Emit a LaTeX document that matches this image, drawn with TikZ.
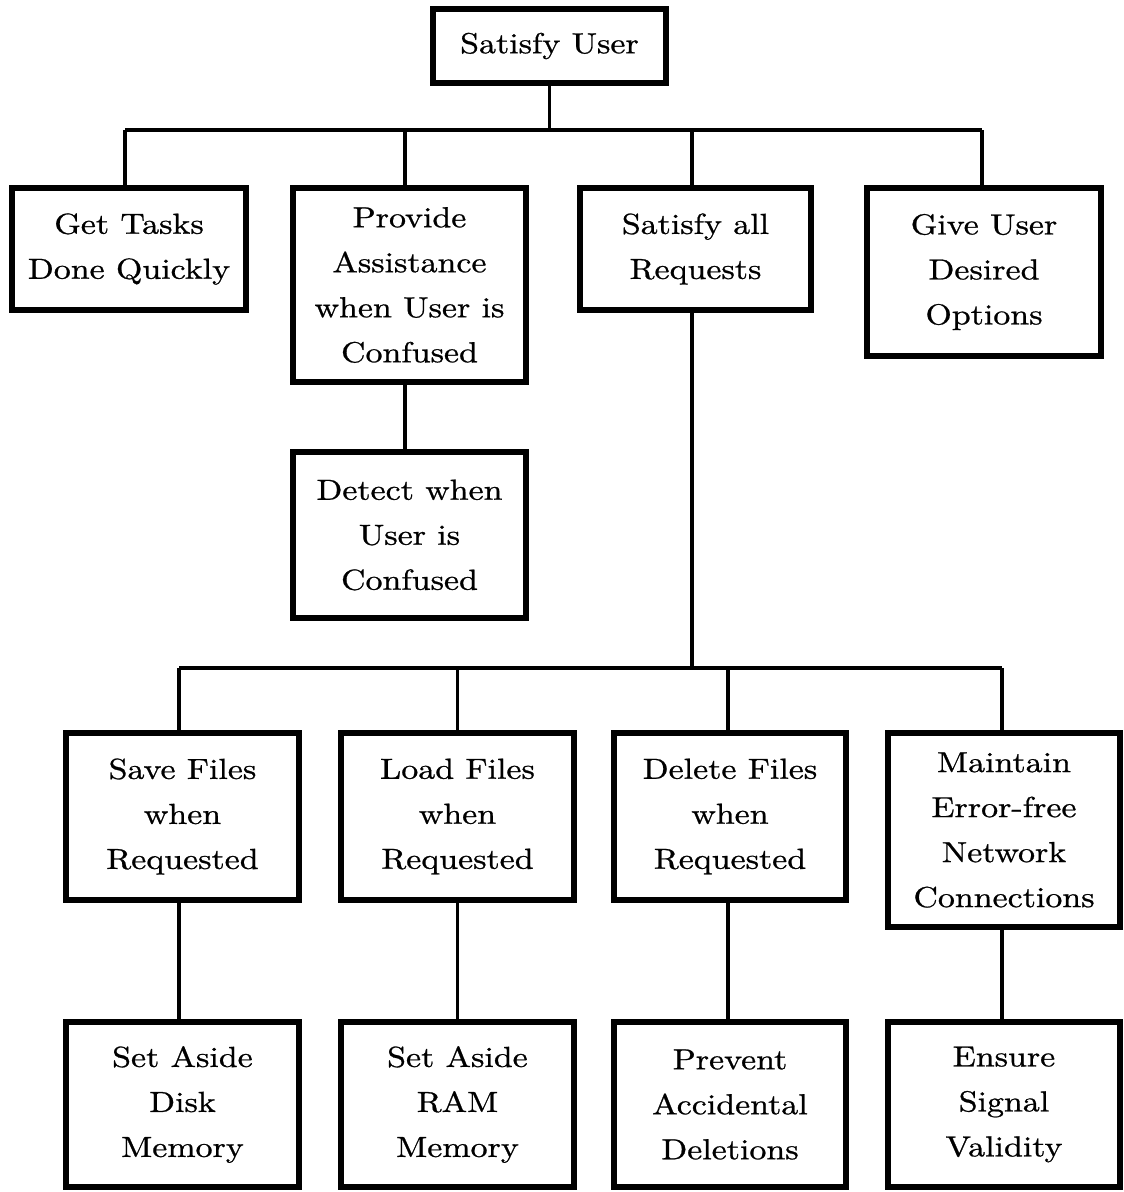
\documentclass[tikz,border=0pt]{standalone}
\usepackage{fontspec}
\setmainfont{lmroman10-regular.otf}[FakeStretch=1.17, FakeBold=0.8]
\begin{document}
\begin{tikzpicture}[x=1pt,y=-1pt,
  goalbox/.style={draw=black, line width=6.5pt, fill=white, align=center,
    inner sep=0pt, font=\fontsize{29}{45}\selectfont},
  link/.style={draw=black, line width=3.8pt}]
\useasboundingbox (0,0) rectangle (1124,1192);

% top goal
\node[goalbox, minimum width=233pt, minimum height=74pt]  (su) at (549.5,46) {Satisfy User};

% first level
\node[goalbox, minimum width=234pt, minimum height=122pt] (gt) at (129,249) {Get Tasks\\Done Quickly};
\node[goalbox, minimum width=233pt, minimum height=194pt] (pa) at (409.5,285) {Provide\\Assistance\\when User is\\Confused};
\node[goalbox, minimum width=231pt, minimum height=122pt] (sr) at (695.5,249) {Satisfy all\\Requests};
\node[goalbox, minimum width=234pt, minimum height=168pt] (gu) at (984,272) {Give User\\Desired\\Options};

% under "Provide Assistance"
\node[goalbox, minimum width=233pt, minimum height=166pt] (dc) at (409.5,535) {Detect when\\User is\\Confused};

% second level under "Satisfy all Requests"
\node[goalbox, minimum width=233pt, minimum height=167pt] (sf) at (182.5,816.5) {Save Files\\when\\Requested};
\node[goalbox, minimum width=233pt, minimum height=167pt] (lf) at (457.5,816.5) {Load Files\\when\\Requested};
\node[goalbox, minimum width=232pt, minimum height=167pt] (df) at (730,816.5) {Delete Files\\when\\Requested};
\node[goalbox, minimum width=232pt, minimum height=194pt] (mn) at (1004,830) {Maintain\\Error-free\\Network\\Connections};

% leaves
\node[goalbox, minimum width=233pt, minimum height=165pt] (sd) at (182.5,1104.5) {Set Aside\\Disk\\Memory};
\node[goalbox, minimum width=233pt, minimum height=165pt] (rm) at (457.5,1104.5) {Set Aside\\RAM\\Memory};
\node[goalbox, minimum width=232pt, minimum height=165pt] (pv) at (730,1104.5) {Prevent\\Accidental\\Deletions};
\node[goalbox, minimum width=232pt, minimum height=165pt] (es) at (1004,1104.5) {Ensure\\Signal\\Validity};

% junction levels
\coordinate (barA) at (0,130);
\coordinate (barB) at (0,668);

% tree links, first level
\draw[link] (su.south) -- (su.south |- barA);
\draw[link] ([xshift=-4pt]gt.north |- barA) -- ([xshift=-2pt]gu.north |- barA);
\draw[link] ([xshift=-4pt]gt.north |- barA) -- ([xshift=-4pt]gt.north);
\draw[link] ([xshift=-4.5pt]pa.north |- barA) -- ([xshift=-4.5pt]pa.north);
\draw[link] ([xshift=-3.5pt]sr.north |- barA) -- ([xshift=-3.5pt]sr.north);
\draw[link] ([xshift=-2pt]gu.north |- barA) -- ([xshift=-2pt]gu.north);

% "Provide Assistance" to "Detect"
\draw[link] ([xshift=-4.5pt]pa.south) -- ([xshift=-4.5pt]dc.north);

% "Satisfy all Requests" branch
\draw[link] ([xshift=-3.5pt]sr.south) -- ([xshift=-3.5pt]sr.south |- barB);
\draw[link] ([xshift=-3.5pt]sf.north |- barB) -- ([xshift=-2pt]mn.north |- barB);
\draw[link] ([xshift=-3.5pt]sf.north |- barB) -- ([xshift=-3.5pt]sf.north);
\draw[link] (lf.north |- barB) -- (lf.north);
\draw[link] ([xshift=-2pt]df.north |- barB) -- ([xshift=-2pt]df.north);
\draw[link] ([xshift=-2pt]mn.north |- barB) -- ([xshift=-2pt]mn.north);

% leaves
\draw[link] ([xshift=-3.5pt]sf.south) -- ([xshift=-3.5pt]sd.north);
\draw[link] (lf.south) -- (rm.north);
\draw[link] ([xshift=-2pt]df.south) -- ([xshift=-2pt]pv.north);
\draw[link] ([xshift=-2pt]mn.south) -- ([xshift=-2pt]es.north);
\end{tikzpicture}
\end{document}
